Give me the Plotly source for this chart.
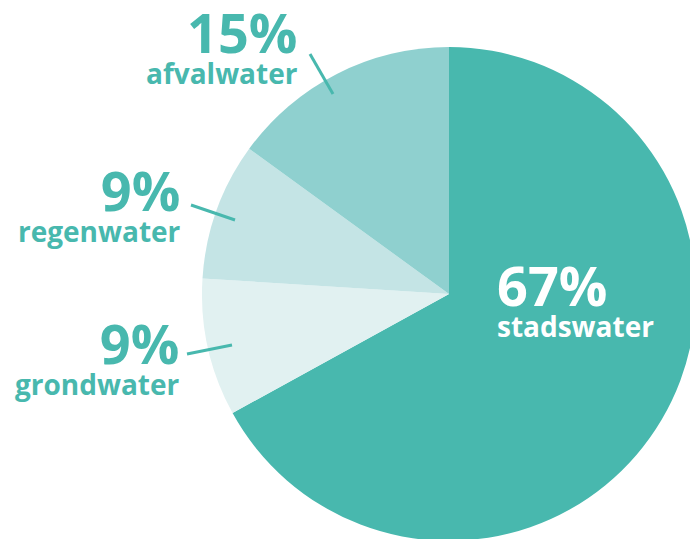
import plotly.graph_objects as go

# figure slightly larger than the 690x539 window so the pie is cut at the right and bottom
W, H = 696, 541

labels = ["stadswater", "grondwater", "regenwater", "afvalwater"]
values = [67, 9, 9, 15]
pct_text = ["67%", "9%", "9%", "15%"]
colors = ["#48b8ae", "#e1f1f1", "#c4e4e5", "#8fd0cf"]
teal = "#48b8ae"

fig = go.Figure(go.Pie(
    labels=labels, values=values, sort=False, direction="clockwise", rotation=0,
    marker=dict(colors=colors, line=dict(width=0)),
    textinfo="none", hoverinfo="skip", showlegend=False,
    domain=dict(x=[202 / W, 1], y=[0, 1 - 47 / H]),
))

def px(x):
    return x / W

def py(y):
    return 1 - y / H

font_name = "Open Sans"
# anchor x, block middle y (px), xanchor, colour
placements = {
    "afvalwater": (300, 43, "right", teal),
    "regenwater": (183, 201, "right", teal),
    "grondwater": (182, 354, "right", teal),
    "stadswater": (495, 296, "left", "white"),
}
ann = []
for lab, pt in zip(labels, pct_text):
    x, ym, xa, col = placements[lab]
    txt = ("<b><span style='font-size:54px'>%s</span><br>"
           "<span style='font-size:28px'>%s</span></b>") % (pt, lab)
    ann.append(dict(x=px(x), y=py(ym), xref="paper", yref="paper", text=txt,
                    showarrow=False, xanchor=xa, yanchor="middle", align=xa,
                    font=dict(family=font_name, size=24, color=col)))

lines = [((310, 54), (333, 94)), ((191, 205), (235, 220)), ((187, 354), (232, 345))]
shapes = [dict(type="line", xref="paper", yref="paper", x0=px(a[0]), y0=py(a[1]),
               x1=px(b[0]), y1=py(b[1]), line=dict(color=teal, width=3)) for a, b in lines]

fig.update_layout(width=W, height=H, margin=dict(l=0, r=0, t=0, b=0),
                  paper_bgcolor="white", plot_bgcolor="white",
                  annotations=ann, shapes=shapes)
fig.write_html("out.html", config={"displayModeBar": False},
               post_script="document.body.style.margin='0';"
                           "document.documentElement.style.overflow='hidden';"
                           "document.body.style.overflow='hidden';")
